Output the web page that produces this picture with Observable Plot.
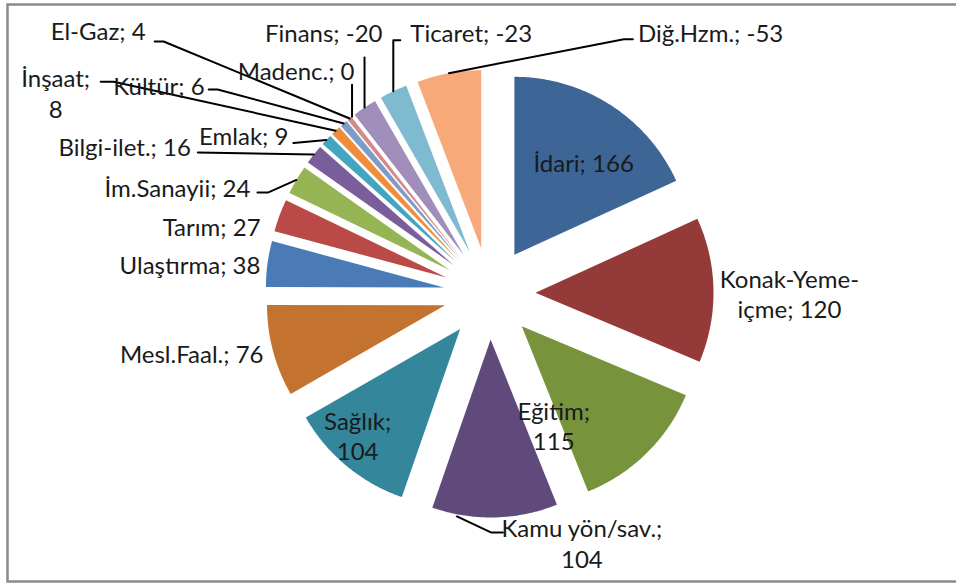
<!DOCTYPE html>
<html><head><meta charset="utf-8">
<script src="https://cdn.jsdelivr.net/npm/d3@7"></script>
<script src="https://cdn.jsdelivr.net/npm/@observablehq/plot@0.6"></script>
<style>
html,body{margin:0;padding:0;background:#fff;overflow:hidden;}
#chart{width:956px;height:584px;}
</style></head>
<body><div id="chart"></div>
<script>
// ---- data ----
const categories = ["İdari","Konak-Yeme-içme","Eğitim","Kamu yön/sav.","Sağlık","Mesl.Faal.","Ulaştırma","Tarım","İm.Sanayii","Bilgi-ilet.","Emlak","İnşaat","Kültür","El-Gaz","Madenc.","Finans","Ticaret","Diğ.Hzm."];
const values = [166,120,115,104,104,76,38,27,24,16,9,8,6,4,0,-20,-23,-53];
const colors = ["#3D6596","#943B39","#77933C","#604A7B","#34869B","#C4722F","#4A7BB7","#BA4A47","#95B453","#7A5E9C","#43A5BF","#F08D3B","#7F9CC9","#D38B89","#B5CC88","#A08DBA","#7EBBD0","#F7A97A"];

// ---- layout ----
const W = 956, H = 584, CX = 489, CY = 293, R = 178, EXPLODE = 46 / R;
const FONT = "Lato, 'Open Sans', sans-serif";
// text line breaks: break after the given substring
const wrapAfter = {1: "Yeme-", 2: ";", 3: ";", 4: ";", 11: ";"};
// label placement: [anchor, dx, dy] in px relative to slice outer midpoint
const labelPlace = [
  ["middle",-27,57],["middle",76,3],["middle",-93,-28],["middle",87,25],["middle",11,-31],
  ["end",-9.5,2.5],["end",-7,0],["end",-19,11],["end",-46,7.5],["end",-123,-8],["end",-38,-5],
  ["middle",-280,-38],["end",-139,-38],["end",-204,-88],["end",2.5,-46],["end",18,-75],
  ["start",17,-59],["start",189,-41]
];
// leader polylines (px offsets relative to slice outer midpoint)
const leaders = {
  3: [[-38,-1],[-4,15],[8,15]],
  8: [[0,0],[-28,12.5],[-39,12.5]],
  9: [[0,0],[-116,-2]],
  10: [[0,0],[-33,3]],
  11: [[0,0],[-222,-49],[-235,-49]],
  12: [[0,0],[-126,-34],[-135,-34]],
  13: [[0,0],[-186,-77],[-195,-77]],
  14: [[0,0],[0,-32]],
  15: [[0,0],[0,-50]],
  16: [[0,0],[0,-51],[7,-51]],
  17: [[0,0],[175,-34],[184,-34]]
};

// ---- geometry from data ----
const arcs = d3.pie().sort(null).value(v => Math.abs(v))(values);
const slicePts = [];
const anchors = [];
arcs.forEach((a, i) => {
  const m = (a.startAngle + a.endAngle) / 2;
  const tx = EXPLODE * Math.sin(m), ty = EXPLODE * Math.cos(m);
  anchors.push({x: tx + Math.sin(m), y: ty + Math.cos(m)});
  if (a.endAngle - a.startAngle <= 0) return;
  const n = Math.max(2, Math.ceil((a.endAngle - a.startAngle) / 0.01));
  slicePts.push({cat: categories[i], x: tx, y: ty});
  for (let k = 0; k <= n; k++) {
    const t = a.startAngle + (a.endAngle - a.startAngle) * k / n;
    slicePts.push({cat: categories[i], x: tx + Math.sin(t), y: ty + Math.cos(t)});
  }
  slicePts.push({cat: categories[i], x: tx, y: ty});
});

const labels = categories.map((c, i) => {
  let txt = `${c}; ${values[i]}`;
  if (wrapAfter[i]) { const s = wrapAfter[i]; const p = txt.indexOf(s) + s.length; txt = txt.slice(0, p) + "\n" + txt.slice(p).trimStart(); }
  const [anchor, dx, dy] = labelPlace[i];
  return {text: txt, anchor, x: anchors[i].x + dx / R, y: anchors[i].y - dy / R};
});

const leaderPts = [];
Object.entries(leaders).forEach(([i, pts]) => {
  pts.forEach(([dx, dy]) => leaderPts.push({k: +i, x: anchors[i].x + dx / R, y: anchors[i].y - dy / R}));
});

const textMark = (anchor) => Plot.text(labels.filter(d => d.anchor === anchor), {
  x: "x", y: "y", text: "text", textAnchor: anchor, lineAnchor: "middle",
  fontSize: 24, fontFamily: FONT, fill: "#1a1a1a", lineHeight: 1.28
});

const chart = Plot.plot({
  width: W, height: H,
  margin: 0,
  x: {domain: [-CX / R, (W - CX) / R], range: [0, W], axis: null},
  y: {domain: [-(H - CY) / R, CY / R], range: [H, 0], axis: null},
  color: {domain: categories, range: colors},
  style: {fontFamily: FONT, background: "#fff", overflow: "visible"},
  marks: [
    Plot.line(slicePts, {x: "x", y: "y", z: "cat", fill: "cat", stroke: null, curve: "linear"}),
    Plot.line(leaderPts, {x: "x", y: "y", z: "k", stroke: "#000", strokeWidth: 2, curve: "linear"}),
    textMark("start"), textMark("middle"), textMark("end"),
    Plot.frame({stroke: "#8a8a8a", strokeWidth: 2.5, insetLeft: 7, insetTop: 4, insetBottom: 3, insetRight: -20})
  ]
});
document.getElementById("chart").appendChild(chart);
</script></body></html>
